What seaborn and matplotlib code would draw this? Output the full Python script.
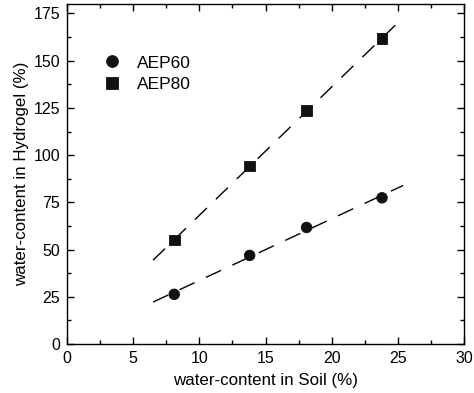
import numpy as np
import pandas as pd
import matplotlib
matplotlib.use("Agg")
import matplotlib.pyplot as plt
import seaborn as sns
from matplotlib.ticker import MultipleLocator

# data
soil = [8.1, 13.8, 18.1, 23.8]
aep60 = [26.3, 46.9, 61.7, 77.4]
aep80 = [55.0, 94.2, 123.5, 161.7]
fit_range = [6.5, 25.4]

sns.set_style("ticks")
plt.rcParams["font.family"] = ["Liberation Sans", "DejaVu Sans"]
plt.rcParams["font.size"] = 11
plt.rcParams["text.color"] = "black"
plt.rcParams["axes.labelcolor"] = "black"

df = pd.DataFrame({"soil": soil * 2,
                   "gel": aep60 + aep80,
                   "sample": ["AEP60"] * 4 + ["AEP80"] * 4})

fig = plt.figure(figsize=(4.74, 3.93), dpi=100)
ax = fig.add_axes([0.1414, 0.1247, 0.8376, 0.865])

# linear fits drawn as dashed lines
xf = np.array(fit_range)
for ys in (aep60, aep80):
    k, b = np.polyfit(soil, ys, 1)
    ax.plot(xf, k * xf + b, color="black", lw=1.0, dashes=(12, 9), zorder=1)

sns.scatterplot(data=df, x="soil", y="gel", style="sample",
                markers={"AEP60": "o", "AEP80": "s"},
                color="#111111", edgecolor="#111111", s=58, ax=ax, zorder=3)

ax.set_xlim(0, 30)
ax.set_ylim(0, 180)
ax.xaxis.set_major_locator(MultipleLocator(5))
ax.xaxis.set_minor_locator(MultipleLocator(2.5))
ax.yaxis.set_major_locator(MultipleLocator(25))
ax.yaxis.set_minor_locator(MultipleLocator(12.5))
ax.tick_params(which="both", direction="in", top=True, right=True,
               labelsize=11.5, colors="black", width=1.0)
ax.tick_params(which="major", length=5, pad=5)
ax.tick_params(which="minor", length=3)
for s in ax.spines.values():
    s.set_linewidth(1.0)
    s.set_color("black")

ax.set_xlabel("water-content in Soil (%)", fontsize=12.2, labelpad=5)
ax.set_ylabel("water-content in Hydrogel (%)", fontsize=12.2, labelpad=3)

leg = ax.legend(loc="upper left", bbox_to_anchor=(0.03, 0.895), frameon=False,
                fontsize=12.5, handletextpad=0.45, labelspacing=0.35, title=None)
for h in leg.legend_handles:
    h.set_markersize(8.5)
    h.set_markerfacecolor("#111111")
    h.set_markeredgecolor("#111111")
for t in leg.get_texts():
    t.set_color("black")

fig.savefig("out.png", dpi=100)
